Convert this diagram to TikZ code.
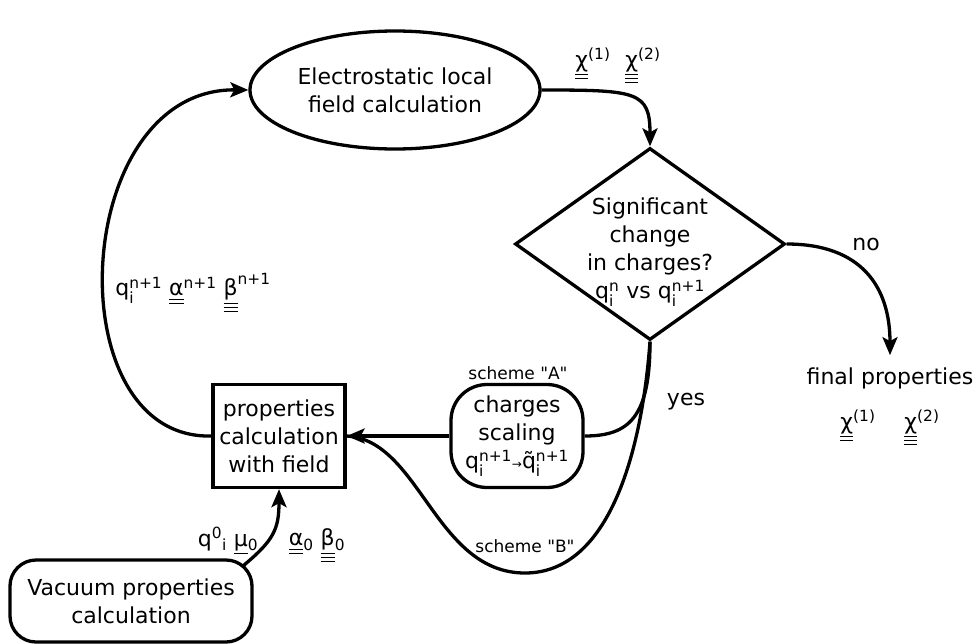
\documentclass[tikz,border=0pt]{standalone}
\usepackage{amsmath}
\usepackage{fontspec}
\setmainfont{DejaVu Sans}
\newfontfamily\nolig{DejaVu Sans}
\usetikzlibrary{shapes.geometric,arrows.meta,calc}
\newcommand\utwo[1]{\underline{\underline{\text{#1}}}}
\newcommand\uthree[1]{\underline{\underline{\underline{\text{#1}}}}}
\begin{document}
\begin{tikzpicture}[x=1pt,y=-1pt,
  every node/.style={font=\fontsize{22}{28}\selectfont, align=center, inner sep=0pt},
  shapeline/.style={draw,line width=3.3pt},
  conn/.style={line width=3.3pt},
  arr/.style={conn,-{Stealth[length=18pt,width=15pt,inset=4pt]}},
  small/.style={font=\nolig\fontsize{17}{20}\selectfont}
]
\useasboundingbox (0,0) rectangle (980,643);

% nodes
\node[ellipse,shapeline,minimum width=290pt,minimum height=118pt] (ell) at (395,90) {Electrostatic local\\field calculation};
\node[diamond,shapeline,minimum width=270pt,minimum height=192pt] (dec) at (650,244) {};
\node (dectxt) at (650,252) {Significant\\change\\in charges?\\q$^{\text{n}}_{\text{i}}$ vs q$^{\text{n+1}}_{\text{i}}$};
\node[rectangle,shapeline,minimum width=132pt,minimum height=103pt] (box) at (279,436) {properties\\calculation\\with field};
\node[rectangle,shapeline,rounded corners=36pt,minimum width=132pt,minimum height=103pt] (cs) at (517,436)
  {charges\\scaling\\q$^{\text{n+1}}_{\text{i}}${\fontsize{12}{12}\selectfont→}\~{q}$^{\text{n+1}}_{\text{i}}$};
\node[rectangle,shapeline,rounded corners=26pt,minimum width=242pt,minimum height=82pt] (vac) at (131,601) {Vacuum properties\\calculation};
\node (fin) at (890,378) {final properties};
\coordinate (sB) at (525,573);

% labels
\node (t1) at (593,64) {$\utwo{χ}^{\text{(1)}}$};
\node (t2) at (643,66) {$\uthree{χ}^{\text{(2)}}$};
\node (f1) at (858,426) {$\utwo{χ}^{\text{(1)}}$};
\node (f2) at (922,428) {$\uthree{χ}^{\text{(2)}}$};
\node (lq) at (193,293) {q$^{\text{n+1}}_{\text{i}}$ $\utwo{α}^{\text{n+1}}$ $\uthree{β}^{\text{n+1}}$};
\node (l0) at (228,541) {q\textsuperscript{0}\textsubscript{i} $\underline{\text{μ}}$\textsubscript{0}};
\node (l1) at (317,546) {$\utwo{α}$\textsubscript{0} $\uthree{β}$\textsubscript{0}};
\node[small] (sa) at (518,373) {scheme "A"};
\node[small] (sb) at (525,546) {scheme "B"};
\node (yes) at (686,402) {yes};
\node (no) at (866,244) {no};

% connectors
\draw[arr] (ell.east) .. controls +(95,0) and +(0,-55) .. (dec.north);
\draw[arr,shorten >=12pt] (dec.east) .. controls +(75,0) and +(0,-80) .. (fin.north);
\draw[conn] (dec.south) .. controls +(0,75) and +(45,0) .. (cs.east);
\draw[conn] (dec.south) .. controls (642,450) and (610,573) .. (sB) .. controls (435,573) and (420,440) .. (box.east);
\draw[arr] (cs.west) -- (box.east);
\draw[arr] (box.west) .. controls (55,440) and (70,88) .. (ell.west);
\draw[arr] ([xshift=-10pt,yshift=-7pt]vac.north east) .. controls +(30,-25) and +(0,40) .. (box.south);
\end{tikzpicture}
\end{document}
